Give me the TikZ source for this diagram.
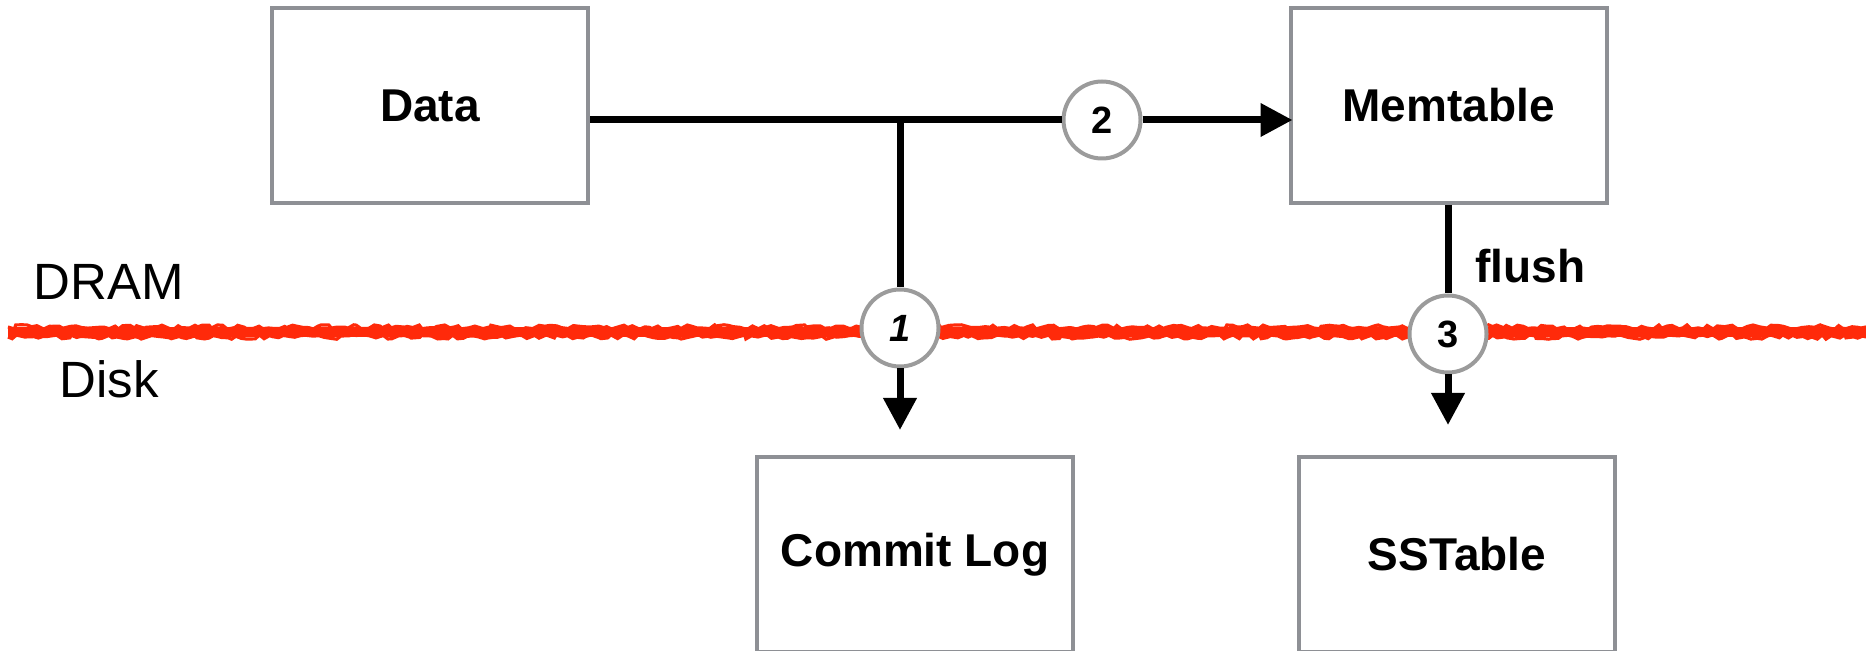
\documentclass[tikz,border=0pt]{standalone}
\usepackage{fontspec}
\setmainfont{Liberation Sans}
\usetikzlibrary{arrows.meta,decorations.pathmorphing}
\definecolor{boxgray}{HTML}{8E9095}
\definecolor{ringgray}{HTML}{9B9B9B}
\definecolor{memred}{HTML}{FF2A0A}

\begin{document}
\begin{tikzpicture}[x=0.5pt,y=-0.5pt,
  store/.style={draw=boxgray, line width=2pt, fill=white, minimum width=158pt,
    minimum height=97.5pt, inner sep=0pt, font=\fontsize{23}{27}\selectfont\bfseries},
  stepnum/.style={circle, draw=ringgray, line width=2pt, fill=white, minimum size=38.5pt,
    inner sep=0pt, font=\fontsize{19}{22}\selectfont\bfseries},
  flow/.style={line width=3.5pt},
  flowarrow/.style={flow, -{Triangle[width=16pt,length=16pt]}},
  layer/.style={font=\fontsize{25.5}{30}\selectfont, anchor=base west, inner sep=0pt},
  ragged/.style={memred, line width=1.6pt, decorate,
    decoration={random steps, segment length=2.5pt, amplitude=1.1pt}}]
\useasboundingbox (0,0) rectangle (1866,651);
\clip (0,0) rectangle (1866,651);

% boundary between memory and disk
\draw[memred, line width=5pt] (8,332) -- (1866,332);
\draw[ragged] (8,327) -- (1866,327);
\draw[ragged] (8,337) -- (1866,337);

\node[layer] (dram) at (33,300) {DRAM};
\node[layer] (disk) at (59,398) {Disk};

% storage components
\node[store] (data) at (430,105.5) {Data};
\node[store] (mem) at (1448.5,105.5) {Memtable};
\node[store] (log) at (915,554.5) {Commit Log};
\node[store] (sst) at (1457,554.5) {SSTable};

% numbered steps
\node[stepnum] (s2) at (1102,120) {2};
\node[stepnum] (s1) at (900,328) {\itshape 1};
\node[stepnum] (s3) at (1448,334) {3};

\coordinate (split) at (900,120);
\coordinate (login) at (900,430);
\coordinate (sstin) at (1448,425);

% write path
\draw[flow] (data.east |- s2) -- (s2);
\draw[flowarrow] (s2) -- ([xshift=2pt]mem.west |- s2);
\draw[flow] (split) -- (s1);
\draw[flowarrow] (s1) -- (login);
\draw[flow] (mem.south -| s3) -- (s3);
\draw[flowarrow] (s3) -- (sstin);

\node[font=\fontsize{23}{27}\selectfont\bfseries, anchor=base west, inner sep=0pt]
  (flush) at (1475,283) {flush};
\end{tikzpicture}
\end{document}
